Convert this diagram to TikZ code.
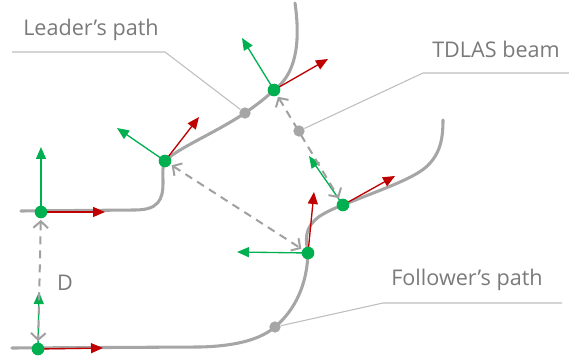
\documentclass[tikz,border=0pt]{standalone}
\usepackage{fontspec}
\setmainfont{Open Sans}
\usetikzlibrary{arrows.meta,backgrounds}
\definecolor{pathgray}{RGB}{166,166,166}
\definecolor{dashgray}{RGB}{160,160,160}
\definecolor{linegray}{RGB}{190,190,190}
\definecolor{textgray}{RGB}{122,122,122}
\definecolor{dotgreen}{RGB}{0,176,80}
\definecolor{arrred}{RGB}{192,0,0}
\begin{document}
\begin{tikzpicture}[x=0.75pt,y=-0.75pt,
  route/.style={draw=pathgray,line width=2.3pt,line cap=round},
  beam/.style={draw=dashgray,line width=1.5pt,dash pattern=on 6pt off 4.5pt,
    {Straight Barb[length=5pt,width=11pt]}-{Straight Barb[length=5pt,width=11pt]},
    shorten >=1pt,shorten <=1pt},
  robot/.style={circle,fill=dotgreen,minimum size=9.5pt,inner sep=0pt},
  waypt/.style={circle,fill=pathgray,minimum size=8.5pt,inner sep=0pt},
  heading/.style={draw=arrred,line width=1pt,-{Triangle[length=9pt,width=7.5pt]}},
  lateral/.style={draw=dotgreen,line width=1pt,-{Triangle[length=9pt,width=7.5pt]}},
  callout/.style={draw=linegray,line width=0.8pt},
  tag/.style={text=textgray,font=\fontsize{16.2}{18}\selectfont,inner sep=0pt}
]
\useasboundingbox (0,0) rectangle (569,360);

% vehicle positions
\node[robot] (L1) at (41,212) {};
\node[robot] (L2) at (165,161) {};
\node[robot] (L3) at (274,90) {};
\node[robot] (F1) at (38,349) {};
\node[robot] (F2) at (308,253) {};
\node[robot] (F3) at (343,205) {};

% marked points on the paths and beam
\node[waypt] (G1) at (245,113) {};
\node[waypt] (G2) at (275,327) {};
\node[waypt] (G3) at (299,131) {};

% arrow tips of the body axes
\coordinate (L1x) at (105,212); \coordinate (L1y) at (41,147);
\coordinate (L2x) at (199,117); \coordinate (L2y) at (117,128);
\coordinate (L3x) at (328,59);  \coordinate (L3y) at (242,38);
\coordinate (F1x) at (103,348); \coordinate (F1y) at (39,292);
\coordinate (F2x) at (314,192); \coordinate (F2y) at (237,252);
\coordinate (F3x) at (395,176); \coordinate (F3y) at (309,156);

% callout bends and ends
\coordinate (c1a) at (165,52);  \coordinate (c1b) at (12,52);
\coordinate (c3a) at (423,73);  \coordinate (c3b) at (569,73);
\coordinate (c2a) at (383,303); \coordinate (c2b) at (562,303);

\begin{scope}[on background layer]
  % leader path
  \draw[route] (21,211) -- (135,210)
    .. controls (158,210) and (163,200) .. (163,183)
    .. controls (163,172) and (162,166) .. (L2.center)
    .. controls (178,148) and (215,133) .. (G1.center)
    .. controls (258,104) and (268,96) .. (L3.center)
    .. controls (295,75) and (301,45) .. (295,3);
  % follower path
  \draw[route] (12,348) -- (200,347)
    .. controls (240,346) and (262,338) .. (G2.center)
    .. controls (295,310) and (307,285) .. (F2.center)
    .. controls (306,240) and (303,228) .. (320,216)
    .. controls (328,211) and (335,208) .. (F3.center)
    .. controls (380,190) and (410,180) .. (425,168)
    .. controls (440,155) and (443,140) .. (443,120);

  % callouts
  \draw[callout] (G1) -- (c1a) -- (c1b);
  \draw[callout] (G3) -- (c3a) -- (c3b);
  \draw[callout] (G2) -- (c2a) -- (c2b);

  % body axes
  \foreach \v in {L1,L2,L3,F1,F2,F3}{
    \draw[heading] (\v.center) -- (\v x);
    \draw[lateral] (\v.center) -- (\v y);
  }

  % distances / beams
  \draw[beam] (L1) -- (F1);
  \draw[beam] (L2) -- (F2);
  \draw[beam] (L3) -- (F3);
\end{scope}

% texts
\node[tag] (t1) at (91,30) {Leader’s path};
\node[tag] (t2) at (496,49) {TDLAS beam};
\node[tag] (t3) at (467,280) {Follower’s path};
\node[tag] (t4) at (65,283) {D};
\end{tikzpicture}
\end{document}
